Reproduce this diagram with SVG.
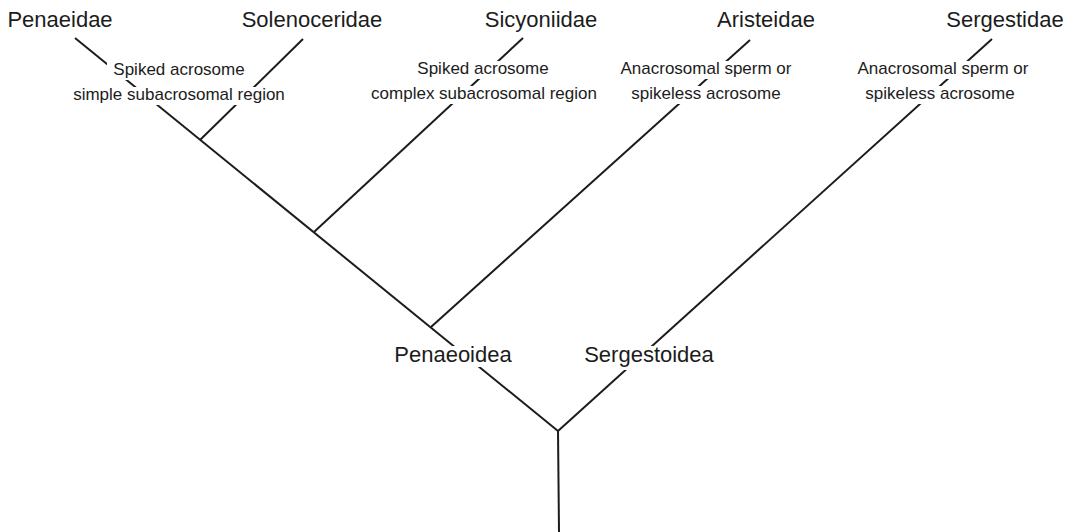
<svg xmlns="http://www.w3.org/2000/svg" width="1072" height="532" viewBox="0 0 1072 532">
<style>
.edge{stroke:#1c1c1c;stroke-width:2;fill:none;stroke-linecap:butt}
.big{font-family:"Liberation Sans",Arial,sans-serif;font-size:22px;fill:#1c1c1c;text-anchor:middle}
.small{font-family:"Liberation Sans",Arial,sans-serif;font-size:17px;fill:#1c1c1c;text-anchor:middle}
.bg{fill:#ffffff}
</style>
<rect width="1072" height="532" fill="#ffffff"/>
<g id="connectors">
<line class="edge" x1="75" y1="38" x2="558" y2="431"/>
<line class="edge" x1="303" y1="39" x2="200" y2="140"/>
<line class="edge" x1="523" y1="38" x2="314" y2="232"/>
<line class="edge" x1="750" y1="40" x2="431" y2="327"/>
<line class="edge" x1="992" y1="39" x2="558" y2="431"/>
<line class="edge" x1="558" y1="430" x2="559" y2="532"/>
</g>
<g id="Penaeidae"><text class="big" x="60" y="27">Penaeidae</text></g>
<g id="Solenoceridae"><text class="big" x="312" y="27">Solenoceridae</text></g>
<g id="Sicyoniidae"><text class="big" x="541" y="27">Sicyoniidae</text></g>
<g id="Aristeidae"><text class="big" x="766" y="27">Aristeidae</text></g>
<g id="Sergestidae"><text class="big" x="1005" y="27">Sergestidae</text></g>
<g id="label-simple">
<rect class="bg" x="107" y="62" width="144" height="18"/>
<rect class="bg" x="67" y="87" width="224" height="18"/>
<text class="small" x="179" y="75">Spiked acrosome</text>
<text class="small" x="179" y="100">simple subacrosomal region</text>
</g>
<g id="label-complex">
<rect class="bg" x="412" y="61" width="142" height="18"/>
<rect class="bg" x="367" y="86" width="234" height="18"/>
<text class="small" x="483" y="74">Spiked acrosome</text>
<text class="small" x="484" y="99">complex subacrosomal region</text>
</g>
<g id="label-aristeidae">
<rect class="bg" x="617" y="61" width="179" height="18"/>
<rect class="bg" x="627" y="86" width="159" height="18"/>
<text class="small" x="706" y="74">Anacrosomal sperm or</text>
<text class="small" x="706" y="99">spikeless acrosome</text>
</g>
<g id="label-sergestidae">
<rect class="bg" x="857" y="61" width="172" height="18"/>
<rect class="bg" x="861" y="86" width="157" height="18"/>
<text class="small" x="943" y="74">Anacrosomal sperm or</text>
<text class="small" x="940" y="99">spikeless acrosome</text>
</g>
<g id="Penaeoidea">
<rect class="bg" x="392" y="346" width="123" height="21"/>
<text class="big" x="453" y="362">Penaeoidea</text>
</g>
<g id="Sergestoidea">
<rect class="bg" x="585" y="346" width="128" height="24"/>
<text class="big" x="649" y="362">Sergestoidea</text>
</g>
</svg>
